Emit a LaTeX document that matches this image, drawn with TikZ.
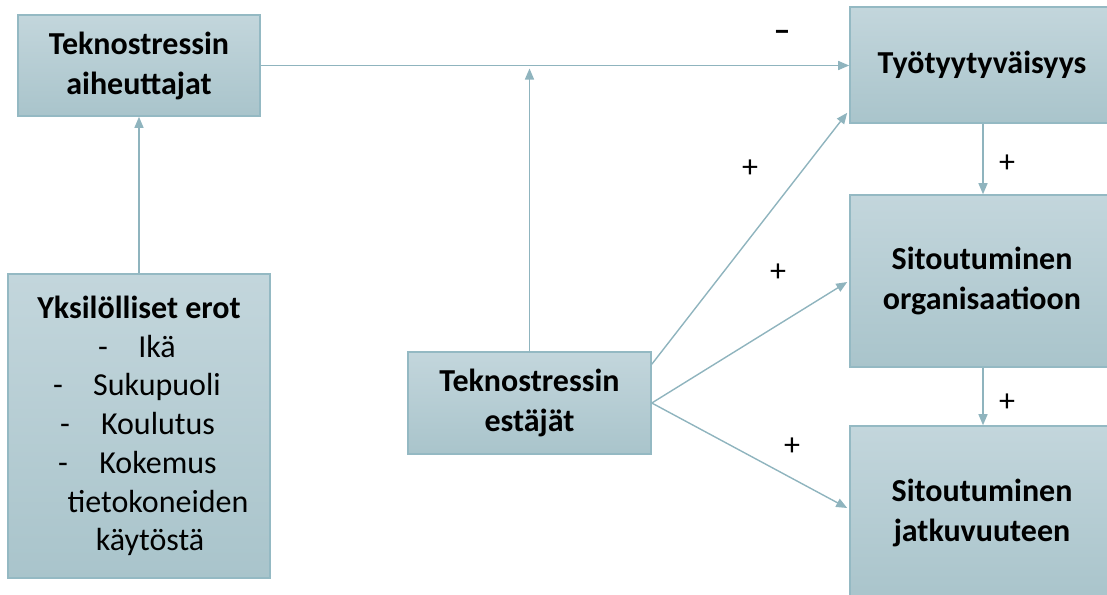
\documentclass[tikz,border=0pt]{standalone}
\usepackage{fontspec}
\setmainfont{Carlito}
\usetikzlibrary{arrows.meta,calc}
\definecolor{boxtop}{HTML}{C3D6DC}
\definecolor{boxbot}{HTML}{A9C4CB}
\definecolor{boxline}{HTML}{94B9C3}
\definecolor{conn}{HTML}{8FB4BE}
\tikzset{
  box/.style={draw=boxline, line width=0.8pt, top color=boxtop, bottom color=boxbot,
    inner sep=0pt, align=center, font=\fontsize{16}{20}\selectfont\bfseries},
  conn/.style={draw=conn, line width=0.7pt, -{Triangle[length=5.5pt,width=4.5pt]}},
  sign/.style={inner sep=0pt, font=\fontsize{16}{20}\selectfont},
  item/.style={inner sep=0pt, anchor=base, font=\fontsize{16}{20}\selectfont},
}
\begin{document}
\begin{tikzpicture}[x=0.5pt,y=-0.5pt]
\useasboundingbox (0,0) rectangle (1107,594);
\clip (0,0) rectangle (1107,594);
% boxes
\node[box, minimum width=242*0.5pt, minimum height=101*0.5pt] (A) at (139,65.5) {Teknostressin\\aiheuttajat};
\node[box, minimum width=262*0.5pt, minimum height=304*0.5pt] (Y) at (139,426) {};
\node[box, minimum width=243*0.5pt, minimum height=102*0.5pt] (E) at (529.5,403) {Teknostressin\\estäjät};
\node[box, minimum width=264*0.5pt, minimum height=116*0.5pt] (T) at (982,65) {Työtyytyväisyys};
\node[box, minimum width=264*0.5pt, minimum height=172*0.5pt] (S1) at (982,281) {Sitoutuminen\\organisaatioon};
\node[box, minimum width=264*0.5pt, minimum height=174*0.5pt] (S2) at (982,513) {Sitoutuminen\\jatkuvuuteen};
% text of individual differences box
\node[item, font=\fontsize{16}{20}\selectfont\bfseries] (y0) at (139,318) {Yksilölliset erot};
\node[item] (d1) at (103,357) {-};
\node[item] (w1) at (157,357) {Ikä};
\node[item] (d2) at (58,395) {-};
\node[item] (w2) at (157,395) {Sukupuoli};
\node[item] (d3) at (65,434) {-};
\node[item] (w3) at (158,434) {Koulutus};
\node[item] (d4) at (63,473) {-};
\node[item] (w4) at (158,473) {Kokemus};
\node[item] (w5) at (158,512) {tietokoneiden};
\node[item] (w6) at (150,550) {käytöstä};
% connectors
\draw[conn] (Y.north -| A.south) -- (A.south);
\draw[conn] (A.east) -- (A.east -| T.west);
\coordinate (J) at (E.north |- A.east);
\draw[conn] (E.north) -- ([yshift=-1.5pt]J);
\draw[conn] ($(E.north east)+(0,13)$) -- ($(T.south west)+(-2,-11)$);
\draw[conn] (E.east) -- ($(S1.west)+(-2,1)$);
\draw[conn] (E.east) -- ($(S2.west)+(-2,-5)$);
\draw[conn] (T.south -| 983,0) -- (S1.north -| 983,0);
\draw[conn] (S1.south -| 983,0) -- (S2.north -| 983,0);
% signs
\node[sign, font=\fontsize{17}{20}\selectfont\bfseries] (m1) at (782,36) {--};
\node[sign] (p1) at (750,169) {+};
\node[sign] (p2) at (1007,164) {+};
\node[sign] (p3) at (778,273) {+};
\node[sign] (p4) at (792,447) {+};
\node[sign] (p5) at (1007,403) {+};
\end{tikzpicture}
\end{document}
